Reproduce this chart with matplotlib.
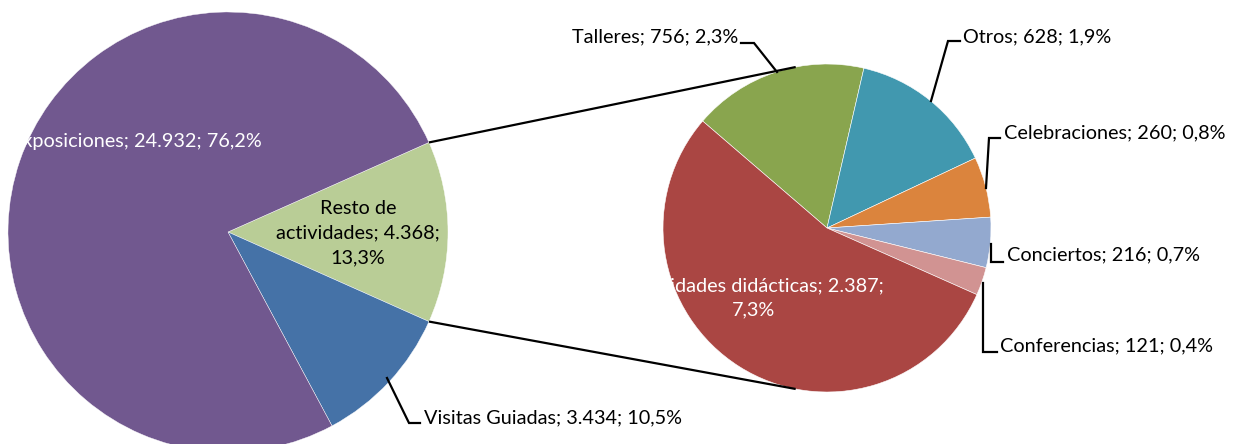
import numpy as np
import matplotlib
matplotlib.use("Agg")
import matplotlib.pyplot as plt

plt.rcParams['font.family'] = ['Lato', 'DejaVu Sans']

# main pie
main_labels = ["Resto de actividades", "Visitas Guiadas", "Exposiciones"]
main_values = [4368, 3434, 24932]
main_colors = ["#B9CD96", "#4572A7", "#71588F"]

# breakdown of "Resto de actividades"
sub_labels = ["Talleres", "Otros", "Celebraciones", "Conciertos", "Conferencias",
              "Actividades didácticas"]
sub_values = [756, 628, 260, 216, 121, 2387]
sub_colors = ["#89A54E", "#4198AF", "#DB843D", "#93A9CF", "#D19392", "#AA4643"]

total = sum(main_values)


def fmt_num(v):
    return f"{v:,}".replace(",", ".")


def fmt_pct(v):
    return f"{100 * v / total:.1f}%".replace(".", ",")


W, H = 1243, 444
fig = plt.figure(figsize=(W / 100, H / 100), dpi=100)
ax = fig.add_axes([0, 0, 1, 1])


def Y(y):
    # pixel row -> data y
    return H - y


big_c = (228, Y(232))
big_r = 220
small_c = (827, Y(228))
small_r = 164

half = 180 * main_values[0] / total
ax.pie(main_values, colors=main_colors, startangle=half, counterclock=False,
       center=big_c, radius=big_r, frame=True,
       wedgeprops=dict(edgecolor="white", linewidth=0.3))
ax.pie(sub_values, colors=sub_colors, startangle=139.3, counterclock=False,
       center=small_c, radius=small_r, frame=True,
       wedgeprops=dict(edgecolor="white", linewidth=0.4))
ax.set_xlim(0, W)
ax.set_ylim(0, H)
ax.set_aspect("equal")
ax.axis("off")

# connector lines between the two pies
for s in (1, -1):
    a1 = np.radians(s * half)
    a2 = np.radians(s * 101)
    ax.plot([big_c[0] + big_r * np.cos(a1), small_c[0] + small_r * np.cos(a2)],
            [big_c[1] + big_r * np.sin(a1), small_c[1] + small_r * np.sin(a2)],
            color="black", lw=1.6, solid_capstyle="butt")

fs = 14.3


def label(name, val):
    return f"{name}; {fmt_num(val)}; {fmt_pct(val)}"


# labels inside slices
ax.text(262, Y(141), label(main_labels[2], main_values[2]), color="white",
        fontsize=fs, ha="right", va="center")
ax.text(358, Y(233), f"Resto de\nactividades; {fmt_num(main_values[0])};\n{fmt_pct(main_values[0])}",
        color="black", fontsize=fs, ha="center", va="center", linespacing=1.55)
ax.text(754, Y(298), f"{sub_labels[5]}; {fmt_num(sub_values[5])};\n{fmt_pct(sub_values[5])}",
        color="white", fontsize=fs, ha="center", va="center", linespacing=1.55)


# outside labels with leader lines
def leader(pts):
    ax.plot([p[0] for p in pts], [Y(p[1]) for p in pts], color="black", lw=1.6,
            solid_joinstyle="miter")


ax.text(424, Y(418), label(main_labels[1], main_values[1]), fontsize=fs,
        ha="left", va="center")
leader([(387, 378), (409, 423), (420, 423)])

ax.text(738, Y(37), label(sub_labels[0], sub_values[0]), fontsize=fs,
        ha="right", va="center")
leader([(741, 43), (754, 43), (777, 72)])

ax.text(963, Y(37), label(sub_labels[1], sub_values[1]), fontsize=fs,
        ha="left", va="center")
leader([(960, 41), (948, 41), (931, 101)])

ax.text(1004, Y(133), label(sub_labels[2], sub_values[2]), fontsize=fs,
        ha="left", va="center")
leader([(1000, 138), (989, 138), (986, 188)])

ax.text(1007, Y(255), label(sub_labels[3], sub_values[3]), fontsize=fs,
        ha="left", va="center")
leader([(991, 244), (991, 262), (1003, 262)])

ax.text(1000, Y(346), label(sub_labels[4], sub_values[4]), fontsize=fs,
        ha="left", va="center")
leader([(983, 283), (983, 352), (997, 352)])

fig.savefig("out.png", dpi=100)
